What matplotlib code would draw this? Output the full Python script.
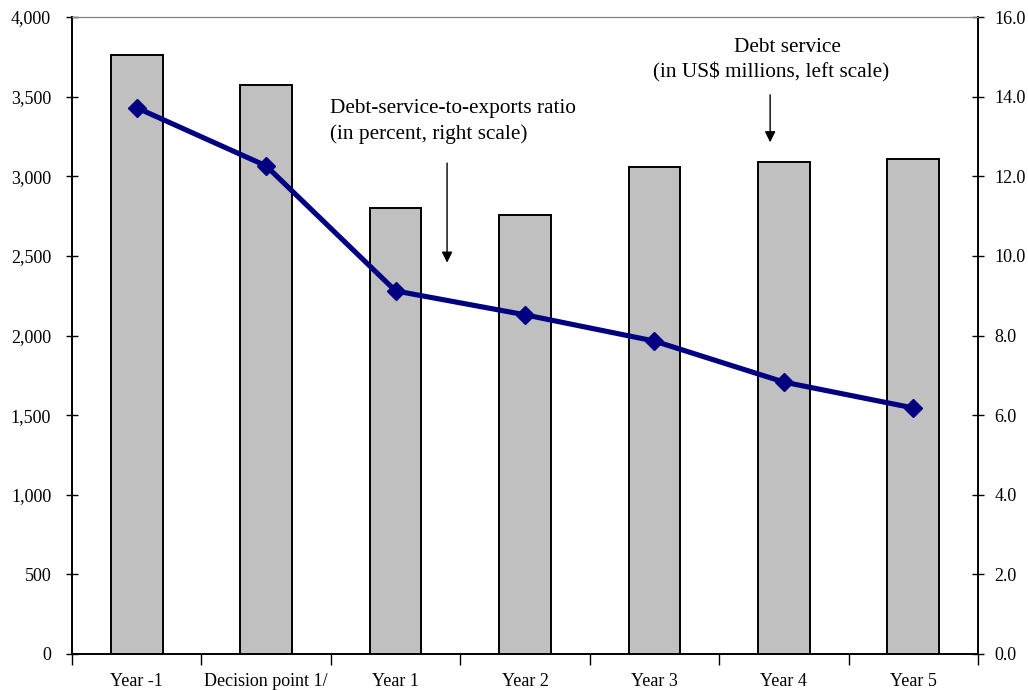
import matplotlib

matplotlib.use("Agg")
import matplotlib.pyplot as plt
import numpy as np
from matplotlib.ticker import FuncFormatter, MultipleLocator

categories = ["Year -1", "Decision point 1/", "Year 1", "Year 2", "Year 3", "Year 4", "Year 5"]
debt_service = [3760, 3570, 2800, 2755, 3060, 3090, 3110]
ratio = [13.72, 12.26, 9.12, 8.52, 7.86, 6.83, 6.18]

plt.rcParams["font.family"] = ["Liberation Serif", "DejaVu Serif"]

fig = plt.figure(figsize=(10.28, 6.9), dpi=100)
ax1 = fig.add_axes([72 / 1028, 1 - 654 / 690, (978 - 72) / 1028, (654 - 17) / 690])
x = np.arange(len(categories))

# barras: servicio de deuda (escala izquierda)
ax1.bar(x, debt_service, width=0.4, color="#c0c0c0", edgecolor="black", linewidth=1.4, zorder=2)
ax1.set_xlim(-0.5, len(categories) - 0.5)
ax1.set_ylim(0, 4000)
ax1.yaxis.set_major_locator(MultipleLocator(500))
ax1.yaxis.set_major_formatter(FuncFormatter(lambda v, p: f"{v:,.0f}"))
ax1.tick_params(axis="y", direction="inout", length=8, width=1, labelsize=13, pad=11)

ax1.set_xticks(x)
ax1.set_xticklabels(categories, fontsize=13)
ax1.tick_params(axis="x", which="major", length=0, pad=14)
ax1.set_xticks(np.arange(-0.5, len(categories)), minor=True)
ax1.tick_params(axis="x", which="minor", direction="out", length=8, width=1)

# linea: ratio (escala derecha)
ax2 = ax1.twinx()
ax2.plot(x, ratio, color="#000080", linewidth=3.7, marker="D", markersize=9.5, zorder=3)
ax2.set_ylim(0, 16)
ax2.yaxis.set_major_locator(MultipleLocator(2))
ax2.yaxis.set_major_formatter(FuncFormatter(lambda v, p: f"{v:.1f}"))
ax2.tick_params(axis="y", direction="inout", length=8, width=1, labelsize=13, pad=8)

for ax in (ax1, ax2):
    ax.spines["top"].set_color("#808080")
    ax.spines["top"].set_linewidth(0.8)
    ax.spines["left"].set_linewidth(1.2)
    ax.spines["right"].set_linewidth(1.2)
    ax.spines["bottom"].set_linewidth(1.2)

ax1.text(1.494, 3397, "Debt-service-to-exports ratio", fontsize=15.3, ha="left", va="baseline")
ax1.text(1.494, 3235, "(in percent, right scale)", fontsize=15.3, ha="left", va="baseline")
ax1.annotate("", xy=(2.398, 2440), xytext=(2.398, 3100),
             arrowprops=dict(arrowstyle="-|>", color="black", lw=1, mutation_scale=16), zorder=5)

ax1.text(5.03, 3780, "Debt service", fontsize=15.3, ha="center", va="baseline")
ax1.text(4.9, 3620, "(in US$ millions, left scale)", fontsize=15.3, ha="center", va="baseline")
ax1.annotate("", xy=(4.894, 3196), xytext=(4.894, 3529),
             arrowprops=dict(arrowstyle="-|>", color="black", lw=1, mutation_scale=16), zorder=5)

fig.savefig("out.png", dpi=100)
